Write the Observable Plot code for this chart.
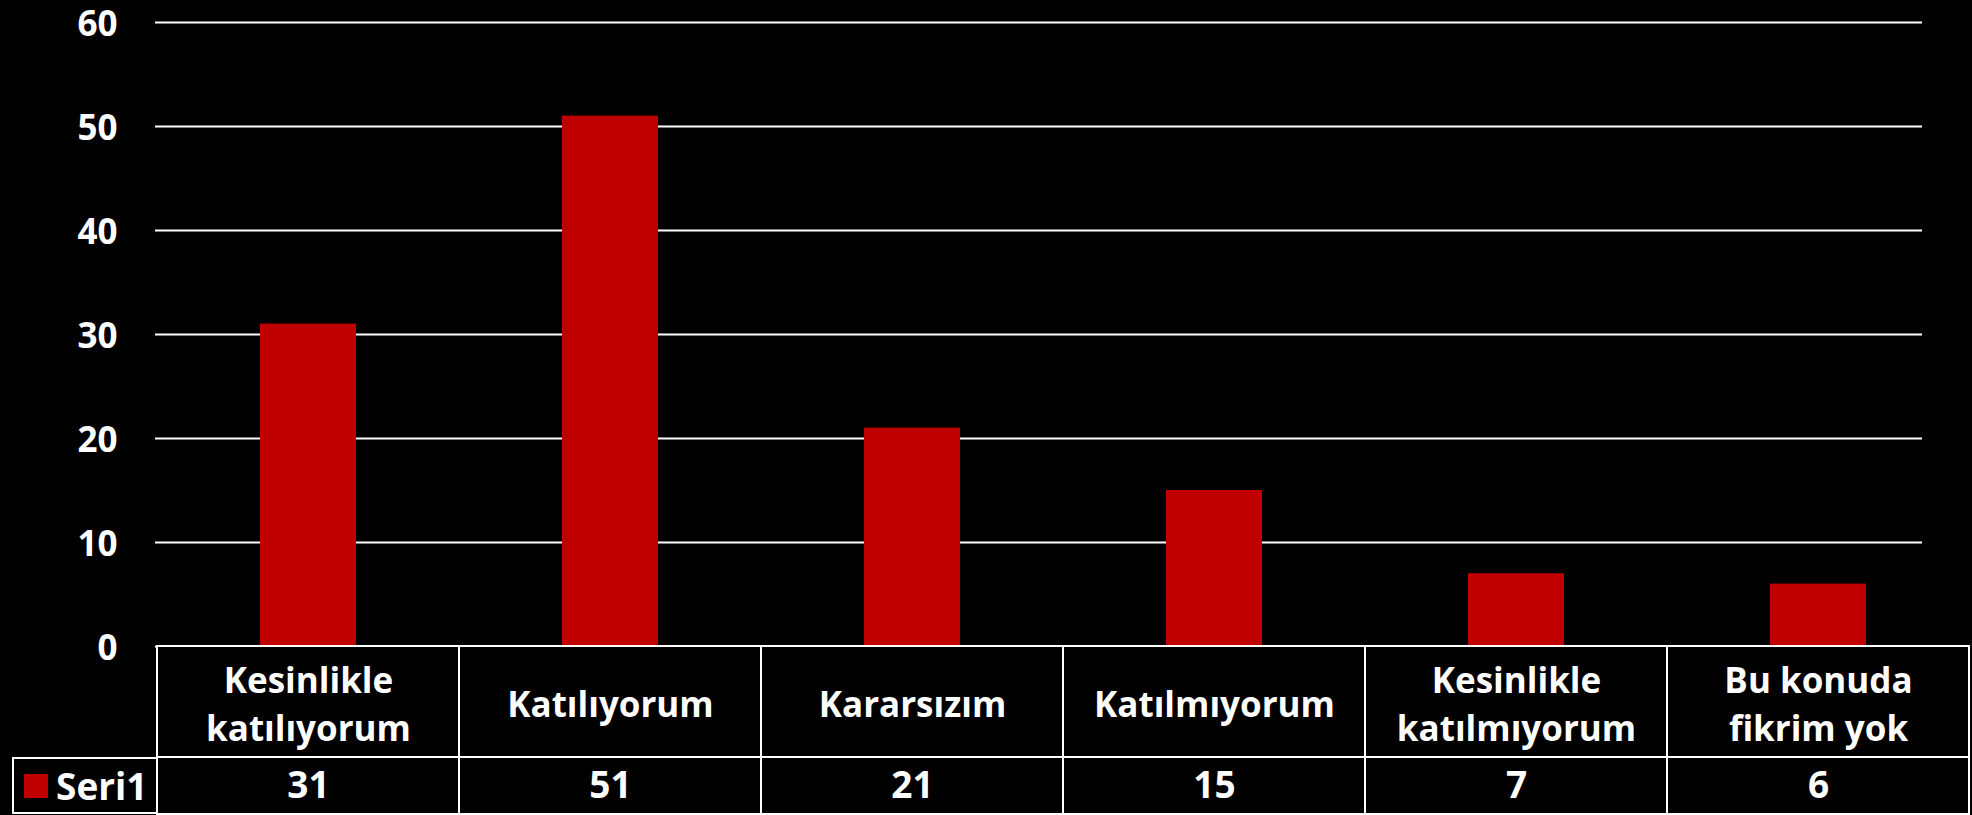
<!DOCTYPE html>
<html>
<head>
<meta charset="utf-8">
<script src="https://cdn.jsdelivr.net/npm/d3@7"></script>
<script src="https://cdn.jsdelivr.net/npm/@observablehq/plot@0.6"></script>
<style>
  html, body { margin: 0; padding: 0; background: #000; }
  #root { position: relative; width: 1972px; height: 815px; background: #000; overflow: hidden; }
  #root > div { position: absolute; }
  svg { overflow: visible; }
  #legend { box-sizing: border-box; border: 2px solid #fff; border-right: none; display: flex; align-items: center;
            font-family: "Open Sans", sans-serif; font-weight: bold; font-size: 37px; color: #fff; }
  #legend .sw { display: inline-block; width: 24px; height: 24px; background: #c00000; margin-left: 10px; margin-right: 8px; }
</style>
</head>
<body>
<div id="root">
  <div id="chart" style="left:0;top:0"></div>
  <div id="catrow" style="left:0;top:645px"></div>
  <div id="valrow" style="left:0;top:756px"></div>
  <div id="legend" style="left:12px;top:757px;width:145px;height:57px"></div>
</div>
<script>
const categories = ["Kesinlikle\nkatılıyorum", "Katılıyorum", "Kararsızım", "Katılmıyorum", "Kesinlikle\nkatılmıyorum", "Bu konuda\nfikrim yok"];
const values = [31, 51, 21, 15, 7, 6];
const yTicks = [0, 10, 20, 30, 40, 50, 60];
const seriesName = "Seri1";

const data = categories.map((c, i) => ({category: c, value: values[i]}));
const font = "'Open Sans', sans-serif";
const FS = 37;
const baseStyle = {background: "transparent", color: "#fff", fontFamily: font, fontWeight: "bold", fontSize: FS + "px", overflow: "visible"};
const W = 1972, mL = 155, mR = 2;

const chart = Plot.plot({
  width: W, height: 647,
  marginLeft: mL, marginRight: mR, marginTop: 22, marginBottom: 1,
  style: baseStyle,
  x: {type: "band", domain: categories, padding: 0, axis: null},
  y: {domain: [0, 60], axis: null},
  marks: [
    Plot.ruleY(yTicks, {stroke: "#fff", strokeWidth: 2, insetRight: 48}),
    Plot.barY(data, {x: "category", y: "value", fill: "#c00000", insetLeft: 103, insetRight: 103}),
    Plot.axisY({ticks: yTicks, label: null, tickSize: 0, tickPadding: 38, dy: 2, fontSize: 35, fontWeight: "bold", fill: "#fff"})
  ]
});
document.getElementById("chart").append(chart);

const catRow = Plot.plot({
  width: W, height: 113,
  marginLeft: mL, marginRight: mR, marginTop: 1, marginBottom: 1,
  style: baseStyle,
  x: {type: "band", domain: categories, padding: 0, axis: null},
  y: {type: "band", domain: ["cat"], padding: 0, axis: null},
  marks: [
    Plot.cell(data, {x: "category", y: () => "cat", fill: "#000", stroke: "#fff", strokeWidth: 2}),
    Plot.text(data, {x: "category", y: () => "cat", text: "category", fill: "#fff", fontSize: 35, fontWeight: "bold", lineHeight: 1.37})
  ]
});
document.getElementById("catrow").append(catRow);

const valRow = Plot.plot({
  width: W, height: 59,
  marginLeft: mL, marginRight: mR, marginTop: 1, marginBottom: 1,
  style: baseStyle,
  x: {type: "band", domain: categories, padding: 0, axis: null},
  y: {type: "band", domain: ["val"], padding: 0, axis: null},
  marks: [
    Plot.cell(data, {x: "category", y: () => "val", fill: "#000", stroke: "#fff", strokeWidth: 2}),
    Plot.text(data, {x: "category", y: () => "val", text: d => String(d.value), fill: "#fff", fontSize: FS, fontWeight: "bold"})
  ]
});
document.getElementById("valrow").append(valRow);

const lg = document.getElementById("legend");
const sw = document.createElement("span"); sw.className = "sw";
const tx = document.createElement("span"); tx.textContent = seriesName;
lg.append(sw, tx);
</script>
</body>
</html>
